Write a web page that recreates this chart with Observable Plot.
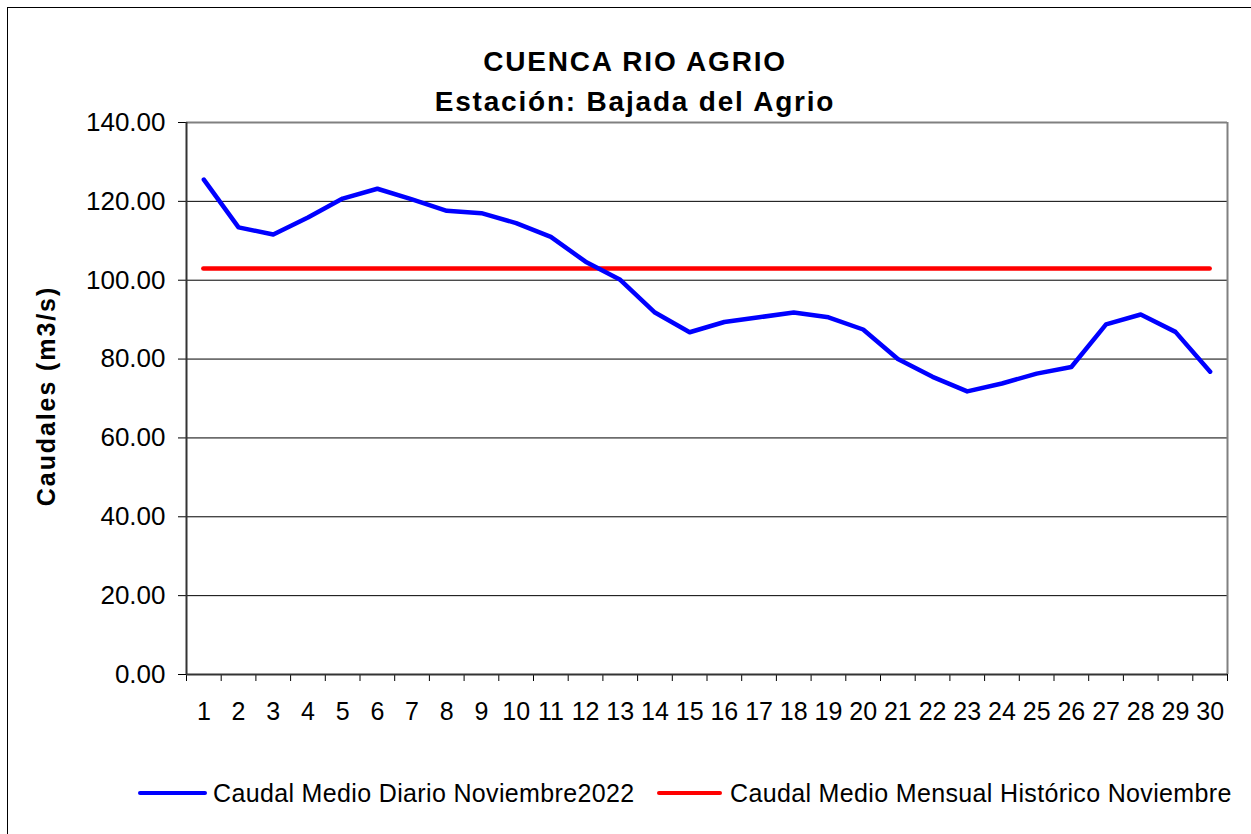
<!DOCTYPE html>
<html>
<head>
<meta charset="utf-8">
<script src="https://cdn.jsdelivr.net/npm/d3@7"></script>
<script src="https://cdn.jsdelivr.net/npm/@observablehq/plot@0.6"></script>
<style>
  html, body { margin: 0; padding: 0; background: #fff; overflow: hidden; }
  #page { position: relative; width: 1251px; height: 834px; overflow: hidden;
          font-family: "Liberation Sans", Arial, Helvetica, sans-serif; color: #000; }
  #outer { position: absolute; left: 7px; top: 7px; width: 1300px; height: 900px;
           border: 1.5px solid #000; box-sizing: border-box; }
  #plot { position: absolute; left: 0; top: 0; }
  #title { position: absolute; left: 0; top: 42.4px; width: 1270px; text-align: center;
           font-weight: bold; font-size: 28px; line-height: 39.3px; letter-spacing: 1.8px; white-space: nowrap; }
  #ylabel { position: absolute; left: 0; top: 0; white-space: nowrap; font-weight: bold;
            font-size: 25px; line-height: 25px; letter-spacing: 1.9px; transform-origin: 0 0;
            transform: translate(55px, 396px) rotate(-90deg) translate(-50%, -21px); }
  .sw { position: absolute; height: 4.5px; border-radius: 3px; }
  .lt { position: absolute; top: 781px; font-size: 25px; line-height: 25px; letter-spacing: 0.35px; white-space: nowrap; }
</style>
</head>
<body>
<div id="page">
  <div id="outer"></div>
  <div id="plot"></div>
  <div id="title"></div>
  <div id="ylabel"></div>
  <div id="legend"></div>
</div>
<script>
// ---- data ----
const titleLines = ["CUENCA RIO AGRIO", "Estación: Bajada del Agrio"];
const yLabel = "Caudales (m3/s)";
const days = [1,2,3,4,5,6,7,8,9,10,11,12,13,14,15,16,17,18,19,20,21,22,23,24,25,26,27,28,29,30];
const caudalDiario = [125.5,113.4,111.6,115.9,120.7,123.2,120.5,117.6,117.0,114.5,111.0,104.7,100.1,91.8,86.8,89.4,90.6,91.8,90.6,87.5,80.0,75.5,71.8,73.8,76.3,78.0,88.8,91.3,86.9,76.8];
const caudalHistorico = 103.0;
const yTicks = [0,20,40,60,80,100,120,140];
const seriesNames = ["Caudal Medio Diario Noviembre2022", "Caudal Medio Mensual Histórico Noviembre"];
const seriesColors = ["#0000ff", "#ff0000"];

// ---- text ----
document.getElementById("title").innerHTML = titleLines.join("<br>");
document.getElementById("ylabel").textContent = yLabel;

// ---- chart ----
const xMin = days[0] - 0.5, xMax = days[days.length - 1] + 0.5;
const boundaries = [xMin, ...days.map(d => d + 0.5)];
const rows = days.map((d, i) => ({day: d, value: caudalDiario[i]}));

const chart = Plot.plot({
  width: 1251,
  height: 740,
  marginTop: 122,
  marginBottom: 66,
  marginLeft: 186,
  marginRight: 24,
  x: {type: "linear", domain: [xMin, xMax]},
  y: {domain: [yTicks[0], yTicks[yTicks.length - 1]]},
  style: {fontFamily: '"Liberation Sans", Arial, sans-serif', fontSize: "25px", color: "#000", background: "transparent", overflow: "visible"},
  marks: [
    Plot.ruleY(yTicks.slice(1, -1), {stroke: "#000", strokeWidth: 1}),
    Plot.ruleY([yTicks[yTicks.length - 1]], {stroke: "#808080", strokeWidth: 2}),
    Plot.ruleX([xMax], {stroke: "#808080", strokeWidth: 2}),
    Plot.axisY({ticks: yTicks, tickFormat: d3.format(".2f"), tickSize: 8, tickPadding: 13, label: null, fontSize: 26}),
    Plot.axisX({ticks: boundaries, tickSize: 7, tickFormat: () => "", label: null}),
    Plot.axisX({ticks: days, tickSize: 0, tickPadding: 28, tickFormat: d => String(d), label: null, fontSize: 25}),
    Plot.ruleX([xMin], {stroke: "#333", strokeWidth: 2}),
    Plot.ruleY([yTicks[0]], {stroke: "#333", strokeWidth: 2}),
    Plot.ruleY([caudalHistorico], {x1: days[0], x2: days[days.length - 1], stroke: seriesColors[1], strokeWidth: 4.5, strokeLinecap: "round"}),
    Plot.line(rows, {x: "day", y: "value", stroke: seriesColors[0], strokeWidth: 4.5, strokeLinejoin: "round", strokeLinecap: "round"})
  ]
});
document.getElementById("plot").appendChild(chart);

// ---- legend ----
const legend = document.getElementById("legend");
const legendLayout = [{sw: [138, 207], tx: 213}, {sw: [657, 722], tx: 730}];
seriesNames.forEach((name, i) => {
  const sw = document.createElement("div");
  sw.className = "sw";
  sw.style.left = legendLayout[i].sw[0] + "px";
  sw.style.width = (legendLayout[i].sw[1] - legendLayout[i].sw[0]) + "px";
  sw.style.top = (793 - 2.25) + "px";
  sw.style.background = seriesColors[i];
  legend.appendChild(sw);
  const t = document.createElement("div");
  t.className = "lt";
  t.style.left = legendLayout[i].tx + "px";
  t.textContent = name;
  legend.appendChild(t);
});
</script>
</body>
</html>
